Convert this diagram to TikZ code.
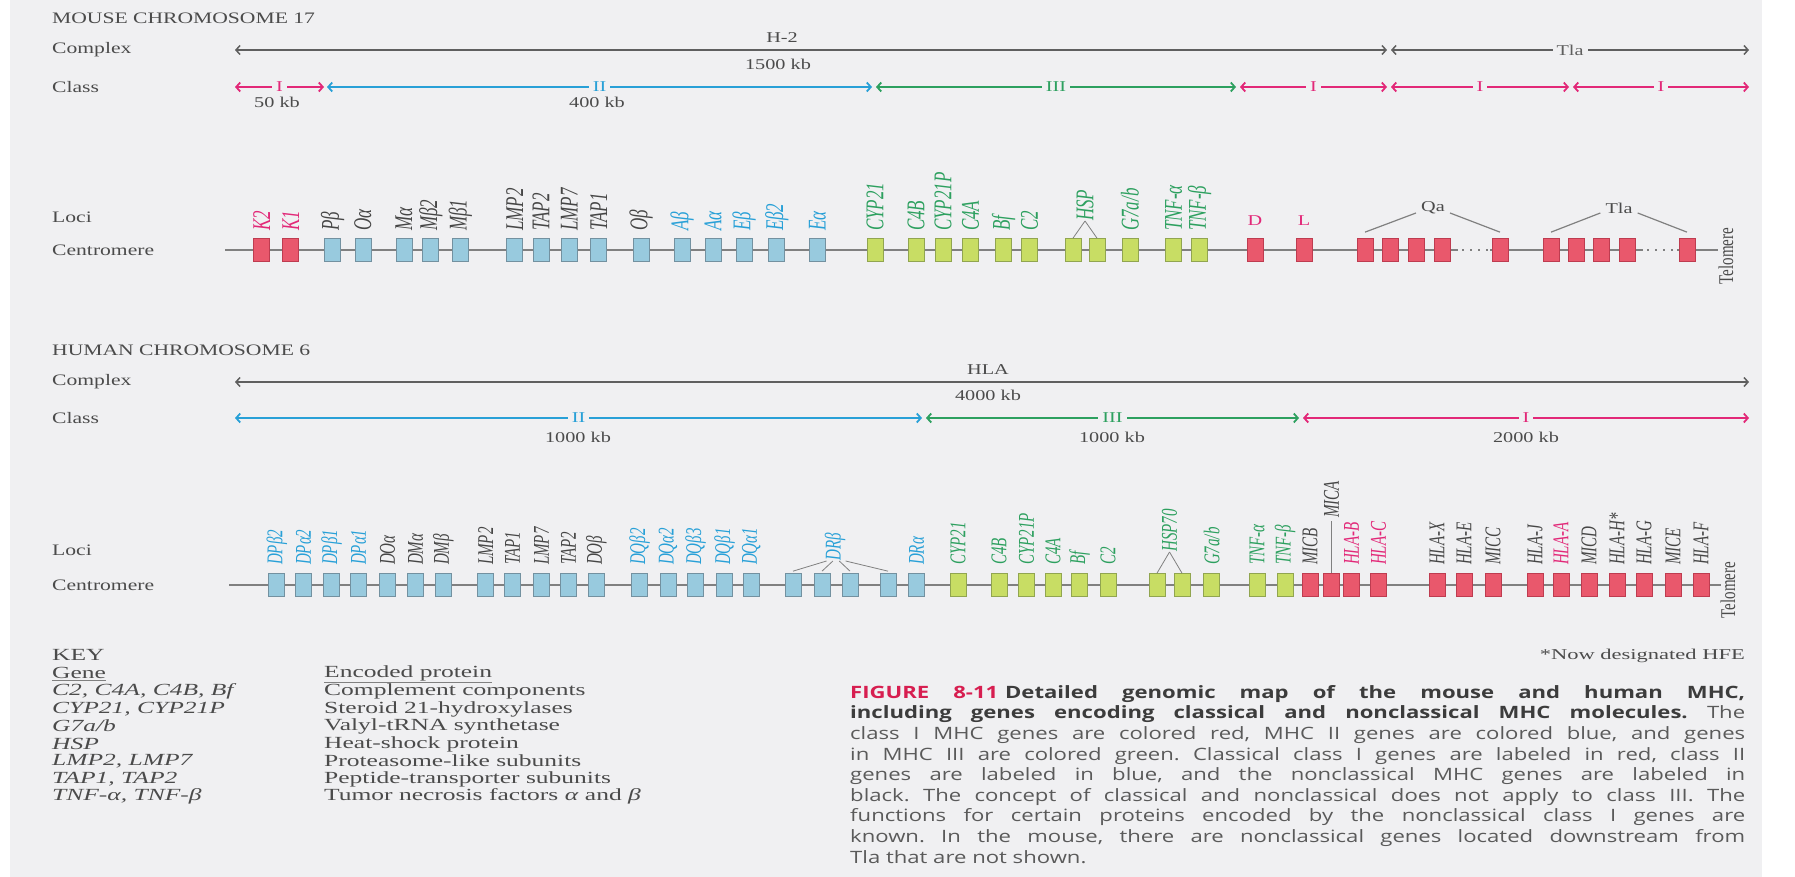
\documentclass[tikz,border=0pt]{standalone}
\usepackage{fontspec}
\setmainfont[FakeStretch=1.35]{Liberation Serif}
\newfontfamily\lblfont{Liberation Serif}
\newfontfamily\keyfont[FakeStretch=1.5]{Liberation Serif}
\newfontfamily\capfont[FakeStretch=1.3]{Open Sans}
\usetikzlibrary{arrows.meta,positioning,calc}
\definecolor{bgc}{RGB}{240,240,242}
\definecolor{boxred}{RGB}{233,88,108}
\definecolor{boxredline}{RGB}{190,60,80}
\definecolor{boxblue}{RGB}{152,202,222}
\definecolor{boxblueline}{RGB}{115,145,160}
\definecolor{boxgreen}{RGB}{200,221,100}
\definecolor{boxgreenline}{RGB}{145,165,80}
\definecolor{lred}{RGB}{226,40,120}
\definecolor{lblue}{RGB}{40,160,215}
\definecolor{lgreen}{RGB}{45,160,95}
\definecolor{lblack}{RGB}{70,70,70}
\definecolor{cxgray}{RGB}{95,95,95}
\definecolor{txtgray}{RGB}{75,75,75}
\definecolor{capgray}{RGB}{90,90,90}
\definecolor{capdark}{RGB}{60,60,60}
\definecolor{capred}{RGB}{215,30,80}
\begin{document}
\begin{tikzpicture}[x = 1pt, y = -1pt,
	>={Straight Barb[length=4pt,width=9pt]},
	txt/.style = {font=\fontsize{16}{19}\selectfont, text=txtgray, inner sep=0pt},
	kb/.style = {font=\fontsize{15}{18}\selectfont, text=txtgray, inner sep=0pt},
	keytxt/.style = {anchor=west, inner sep=0pt, text=txtgray, font=\keyfont\fontsize{17}{19}\selectfont},
	keygene/.style = {keytxt, font=\keyfont\itshape\fontsize{17}{19}\selectfont},
	redbox/.style = {draw=boxredline, fill=boxred, line width=0.7pt, minimum width=16pt, minimum height=23pt, inner sep=0pt},
	bluebox/.style = {redbox, draw=boxblueline, fill=boxblue},
	greenbox/.style = {redbox, draw=boxgreenline, fill=boxgreen},
	mgene/.style = {rotate=90, yscale=1.5, anchor=west, inner sep=0pt, font=\lblfont\itshape\fontsize{17}{17}\selectfont},
	hgene/.style = {mgene, font=\lblfont\itshape\fontsize{15}{15}\selectfont},
	telo/.style = {rotate=90, yscale=1.4, inner sep=0pt, text=txtgray, font=\lblfont\fontsize{15}{15}\selectfont},
	chrom/.style = {draw=gray, line width=1.5pt},
	link/.style = {draw=gray, line width=1.2pt},
	cxarrow/.style = {<->, draw=cxgray, line width=1.5pt},
	cI/.style = {<->, draw=lred, line width=1.8pt},
	cII/.style = {<->, draw=lblue, line width=1.8pt},
	cIII/.style = {<->, draw=lgreen, line width=1.8pt},
	onarrow/.style = {midway, fill=bgc, inner xsep=4pt, inner ysep=1pt, font=\fontsize{15}{15}\selectfont}]
	% paper
	\useasboundingbox (0, 0) rectangle (1795, 877);
	\fill[bgc] (10, 0) rectangle (1762, 877);

	% ---------------- mouse ----------------
	\node[txt, anchor=west] (mhead) at (52, 18) {MOUSE CHROMOSOME 17};
	\node[txt, anchor=west] (mcx) at (52, 50) {Complex};
	\node[txt, anchor=west] (mcl) at (52, 87) {Class};
	\node[txt, anchor=west] (mloci) at (52, 217) {Loci};
	\node[txt, anchor=west] (mcent) at (52, 250) {Centromere};
	% complex
	\coordinate (mxa) at (235, 50);
	\coordinate (mxb) at (1387, 50);
	\coordinate (mxc) at (1391, 50);
	\coordinate (mxd) at (1749, 50);
	\draw[cxarrow] (mxa) -- (mxb);
	\draw[cxarrow] (mxc) -- node[onarrow, text=cxgray] {Tla} (mxd);
	\node[kb] (mhtwo) at (782, 38) {H-2};
	\node[kb] (mkbcx) at (778, 64) {1500 kb};
	% classes
	\coordinate (mca) at (235, 87);
	\coordinate (mcb) at (324, 87);
	\coordinate (mcc) at (327, 87);
	\coordinate (mcd) at (872, 87);
	\coordinate (mce) at (876, 87);
	\coordinate (mcf) at (1236, 87);
	\coordinate (mcg) at (1240, 87);
	\coordinate (mch) at (1387, 87);
	\coordinate (mci) at (1391, 87);
	\coordinate (mcj) at (1569, 87);
	\coordinate (mck) at (1573, 87);
	\coordinate (mcl) at (1749, 87);
	\draw[cI] (mca) -- node[onarrow, text=lred] {I} (mcb);
	\draw[cII] (mcc) -- node[onarrow, text=lblue] {II} (mcd);
	\draw[cIII] (mce) -- node[onarrow, text=lgreen] {III} (mcf);
	\draw[cI] (mcg) -- node[onarrow, text=lred] {I} (mch);
	\draw[cI] (mci) -- node[onarrow, text=lred] {I} (mcj);
	\draw[cI] (mck) -- node[onarrow, text=lred] {I} (mcl);
	\node[kb] (mkba) at (277, 102) {50 kb};
	\node[kb] (mkbb) at (597, 102) {400 kb};
	% chromosome
	\draw[chrom] (225, 250) -- (1458, 250);
	\draw[chrom, dash pattern=on 2pt off 6pt] (1462, 250) -- (1490, 250);
	\draw[chrom] (1490, 250) -- (1643, 250);
	\draw[chrom, dash pattern=on 2pt off 6pt] (1647, 250) -- (1677, 250);
	\draw[chrom] (1677, 250) -- (1718, 250);
	% loci with their names
	\foreach \x/\n/\b/\c/\t in {261.6/mKb/redbox/lred/K2, 290.6/mKa/redbox/lred/K1,
		332.6/mPb/bluebox/lblack/Pβ, 362.9/mOa/bluebox/lblack/Oα, 404/mMa/bluebox/lblack/Mα,
		430.8/mMbb/bluebox/lblack/Mβ2, 460.3/mMba/bluebox/lblack/Mβ1,
		514.7/mLMPb/bluebox/lblack/LMP2, 541/mTAPb/bluebox/lblack/TAP2,
		569.2/mLMPg/bluebox/lblack/LMP7, 598.6/mTAPa/bluebox/lblack/TAP1, 641/mOb/bluebox/lblack/Oβ,
		682/mAb/bluebox/lblue/Aβ, 713/mAa/bluebox/lblue/Aα, 744/mEb/bluebox/lblue/Eβ,
		776.8/mEbb/bluebox/lblue/Eβ2, 817.4/mEa/bluebox/lblue/Eα,
		875/mCYP/greenbox/lgreen/CYP21, 916/mCfb/greenbox/lgreen/C4B, 943/mCYPP/greenbox/lgreen/CYP21P,
		970.5/mCfa/greenbox/lgreen/C4A, 1003.7/mBf/greenbox/lgreen/Bf, 1029.6/mCt/greenbox/lgreen/C2,
		1073/mHSPa/greenbox/lgreen/{}, 1097/mHSPb/greenbox/lgreen/{}, 1130/mGs/greenbox/lgreen/{G7a/b},
		1173.6/mTNFa/greenbox/lgreen/TNF-α, 1199.6/mTNFb/greenbox/lgreen/TNF-β}{
		\node[\b] (\n) at (\x, 250) {};
		\node[mgene, text=\c] (t\n) at ([yshift=7pt]\n.north) {\t};
	}
	% class I loci D, L, Qa and Tla
	\foreach \x/\n in {1255/mD, 1304/mL, 1365/mQa, 1390/mQb, 1416/mQc, 1442/mQd, 1500/mQe,
		1551/mTa, 1576/mTb, 1601/mTc, 1627/mTd, 1687/mTe}
		\node[redbox] (\n) at (\x, 250) {};
	\node[txt, text=lred, font=\fontsize{15}{15}\selectfont] (tmD) at (1255, 221) {D};
	\node[txt, text=lred, font=\fontsize{15}{15}\selectfont] (tmL) at (1304, 221) {L};
	\node[mgene, text=lgreen] (mHSP) at (1085, 221) {HSP};
	\draw[link, line width=0.8pt] (mHSP.west) -- (mHSPa.north);
	\draw[link, line width=0.8pt] (mHSP.west) -- (mHSPb.north);
	\node[kb] (mqa) at (1433, 208) {Qa};
	\node[kb] (mtla) at (1619, 208) {Tla};
	\draw[link] ([xshift=-5pt, yshift=-5pt]mqa.west) -- ([yshift=6pt]mQa.north);
	\draw[link] ([xshift=5pt, yshift=-5pt]mqa.east) -- ([yshift=6pt]mQe.north);
	\draw[link] ([xshift=-5pt, yshift=-5pt]mtla.west) -- ([yshift=6pt]mTa.north);
	\draw[link] ([xshift=5pt, yshift=-5pt]mtla.east) -- ([yshift=6pt]mTe.north);
	\node[telo] (mtel) at (1726, 256) {Telomere};

	% ---------------- human ----------------
	\node[txt, anchor=west] (hhead) at (52, 350) {HUMAN CHROMOSOME 6};
	\node[txt, anchor=west] (hcx) at (52, 382) {Complex};
	\node[txt, anchor=west] (hcl) at (52, 418) {Class};
	\node[txt, anchor=west] (hloci) at (52, 550) {Loci};
	\node[txt, anchor=west] (hcent) at (52, 585) {Centromere};
	% complex
	\coordinate (hxa) at (235, 382);
	\coordinate (hxb) at (1749, 382);
	\draw[cxarrow] (hxa) -- (hxb);
	\node[kb] (hhla) at (988, 370) {HLA};
	\node[kb] (hkbcx) at (988, 395) {4000 kb};
	% classes
	\coordinate (hca) at (235, 418);
	\coordinate (hcb) at (922, 418);
	\coordinate (hcc) at (926, 418);
	\coordinate (hcd) at (1299, 418);
	\coordinate (hce) at (1303, 418);
	\coordinate (hcf) at (1749, 418);
	\draw[cII] (hca) -- node[onarrow, text=lblue] {II} (hcb);
	\draw[cIII] (hcc) -- node[onarrow, text=lgreen] {III} (hcd);
	\draw[cI] (hce) -- node[onarrow, text=lred] {I} (hcf);
	\node[kb] (hkba) at (578, 437) {1000 kb};
	\node[kb] (hkbb) at (1112, 437) {1000 kb};
	\node[kb] (hkbc) at (1526, 437) {2000 kb};
	% chromosome
	\draw[chrom] (229, 585) -- (1721, 585);
	% loci with their names
	\foreach \x/\n/\b/\c/\t in {276.8/hDPbb/bluebox/lblue/DPβ2, 303.6/hDPab/bluebox/lblue/DPα2,
		331.7/hDPba/bluebox/lblue/DPβ1, 358.5/hDPaa/bluebox/lblue/DPα1,
		387.5/hDOa/bluebox/lblack/DOα, 415.6/hDMa/bluebox/lblack/DMα, 443.3/hDMb/bluebox/lblack/DMβ,
		485.7/hLMPb/bluebox/lblack/LMP2, 512.5/hTAPa/bluebox/lblack/TAP1, 541.5/hLMPg/bluebox/lblack/LMP7,
		568.3/hTAPb/bluebox/lblack/TAP2, 596.4/hDOb/bluebox/lblack/DOβ,
		639.7/hDQbb/bluebox/lblue/DQβ2, 667.9/hDQab/bluebox/lblue/DQα2, 695.5/hDQbc/bluebox/lblue/DQβ3,
		724.5/hDQba/bluebox/lblue/DQβ1, 751.3/hDQaa/bluebox/lblue/DQα1,
		793/hDRba/bluebox/lblue/{}, 822/hDRbb/bluebox/lblue/{}, 850/hDRbc/bluebox/lblue/{},
		888/hDRbd/bluebox/lblue/{}, 916.7/hDRa/bluebox/lblue/DRα,
		958/hCYP/greenbox/lgreen/CYP21, 999/hCfb/greenbox/lgreen/C4B, 1026.5/hCYPP/greenbox/lgreen/CYP21P,
		1053/hCfa/greenbox/lgreen/C4A, 1079.5/hBf/greenbox/lgreen/Bf, 1108/hCt/greenbox/lgreen/C2,
		1157/hHSPa/greenbox/lgreen/{}, 1182/hHSPb/greenbox/lgreen/{}, 1211.7/hGs/greenbox/lgreen/{G7a/b},
		1257/hTNFa/greenbox/lgreen/TNF-α, 1285/hTNFb/greenbox/lgreen/TNF-β,
		1310/hMICB/redbox/lblack/MICB, 1331.5/hMICA/redbox/lblack/{},
		1351.5/hHLAB/redbox/lred/HLA-B, 1378.5/hHLAC/redbox/lred/HLA-C,
		1437/hHLAX/redbox/lblack/HLA-X, 1464/hHLAE/redbox/lblack/HLA-E, 1493/hMICC/redbox/lblack/MICC,
		1535/hHLAJ/redbox/lblack/HLA-J, 1561/hHLAA/redbox/lred/HLA-A, 1589/hMICD/redbox/lblack/MICD,
		1617/hHLAH/redbox/lblack/HLA-H*, 1644/hHLAG/redbox/lblack/HLA-G, 1673/hMICE/redbox/lblack/MICE,
		1701/hHLAF/redbox/lblack/HLA-F}{
		\node[\b] (\n) at (\x, 585) {};
		\node[hgene, text=\c] (t\n) at ([yshift=8pt]\n.north) {\t};
	}
	% grouped names
	\node[hgene, text=lblue] (hDRb) at (835, 561) {DRβ};
	\draw[link, line width=0.8pt] ($(hDRb.north west)!0.1!(hDRb.south west)$) -- ([yshift=2pt]hDRba.north);
	\draw[link, line width=0.8pt] ($(hDRb.north west)!0.4!(hDRb.south west)$) -- ([yshift=2pt]hDRbb.north);
	\draw[link, line width=0.8pt] ($(hDRb.north west)!0.7!(hDRb.south west)$) -- ([yshift=2pt]hDRbc.north);
	\draw[link, line width=0.8pt] ($(hDRb.north west)!1.0!(hDRb.south west)$) -- ([yshift=2pt]hDRbd.north);
	\node[hgene, text=lgreen] (hHSP) at (1169.5, 552) {HSP70};
	\draw[link, line width=0.8pt] (hHSP.west) -- (hHSPa.north);
	\draw[link, line width=0.8pt] (hHSP.west) -- (hHSPb.north);
	\node[hgene, text=lblack] (tMICA) at (1331.5, 518) {MICA};
	\draw[link, line width=0.9pt] ([yshift=-3pt]tMICA.west) -- (hMICA.north);
	\node[telo] (htel) at (1728, 590) {Telomere};

	% ---------------- key ----------------
	\node[keytxt] (key) at (52, 655) {KEY};
	\node[keytxt] (kgene) at (52, 673) {Gene};
	\node[keytxt] (kprot) at (324, 673) {Encoded protein};
	\draw[gray, line width=0.8pt] ([yshift=-1.5pt]kgene.south west) -- ([yshift=-1.5pt]kgene.south east);
	\draw[gray, line width=0.8pt] ([yshift=-1.5pt]kprot.south west) -- ([yshift=-1.5pt]kprot.south east);
	\node[keygene] (kga) at (52, 691) {C2, C4A, C4B, Bf};
	\node[keytxt] (kpa) at (324, 691) {Complement components};
	\node[keygene] (kgb) at (52, 709) {CYP21, CYP21P};
	\node[keytxt] (kpb) at (324, 709) {Steroid 21-hydroxylases};
	\node[keygene] (kgc) at (52, 726) {G7a/b};
	\node[keytxt] (kpc) at (324, 726) {Valyl-tRNA synthetase};
	\node[keygene] (kgd) at (52, 744) {HSP};
	\node[keytxt] (kpd) at (324, 744) {Heat-shock protein};
	\node[keygene] (kge) at (52, 761) {LMP2, LMP7};
	\node[keytxt] (kpe) at (324, 761) {Proteasome-like subunits};
	\node[keygene] (kgf) at (52, 779) {TAP1, TAP2};
	\node[keytxt] (kpf) at (324, 779) {Peptide-transporter subunits};
	\node[keygene] (kgg) at (52, 796) {TNF-α, TNF-β};
	\node[keytxt] (kpg) at (324, 796) {Tumor necrosis factors \textit{α} and \textit{β}};
	\node[keytxt, anchor=east, font=\keyfont\fontsize{15}{17}\selectfont] (hfe) at (1745, 656) {*Now designated HFE};

	% caption
	\node[anchor=north west, inner sep=0pt, text width=895pt, align=justify, text=capgray,
		font=\capfont\fontsize{17}{20.6}\selectfont] (cap) at (850, 685)
		{\frenchspacing\hyphenpenalty=10000 {\color{capred}\bfseries FIGURE 8-11}\hspace{0.4em}{\color{capdark}\bfseries Detailed genomic map of the mouse and human MHC,\linebreak
		including genes encoding classical and nonclassical MHC molecules.} The\linebreak
		class I MHC genes are colored red, MHC II genes are colored blue, and genes\linebreak
		in MHC III are colored green. Classical class I genes are labeled in red, class II\linebreak
		genes are labeled in blue, and the nonclassical MHC genes are labeled in\linebreak
		black. The concept of classical and nonclassical does not apply to class III. The\linebreak
		functions for certain proteins encoded by the nonclassical class I genes are\linebreak
		known. In the mouse, there are nonclassical genes located downstream from\linebreak
		Tla that are not shown.};
\end{tikzpicture}
\end{document}
